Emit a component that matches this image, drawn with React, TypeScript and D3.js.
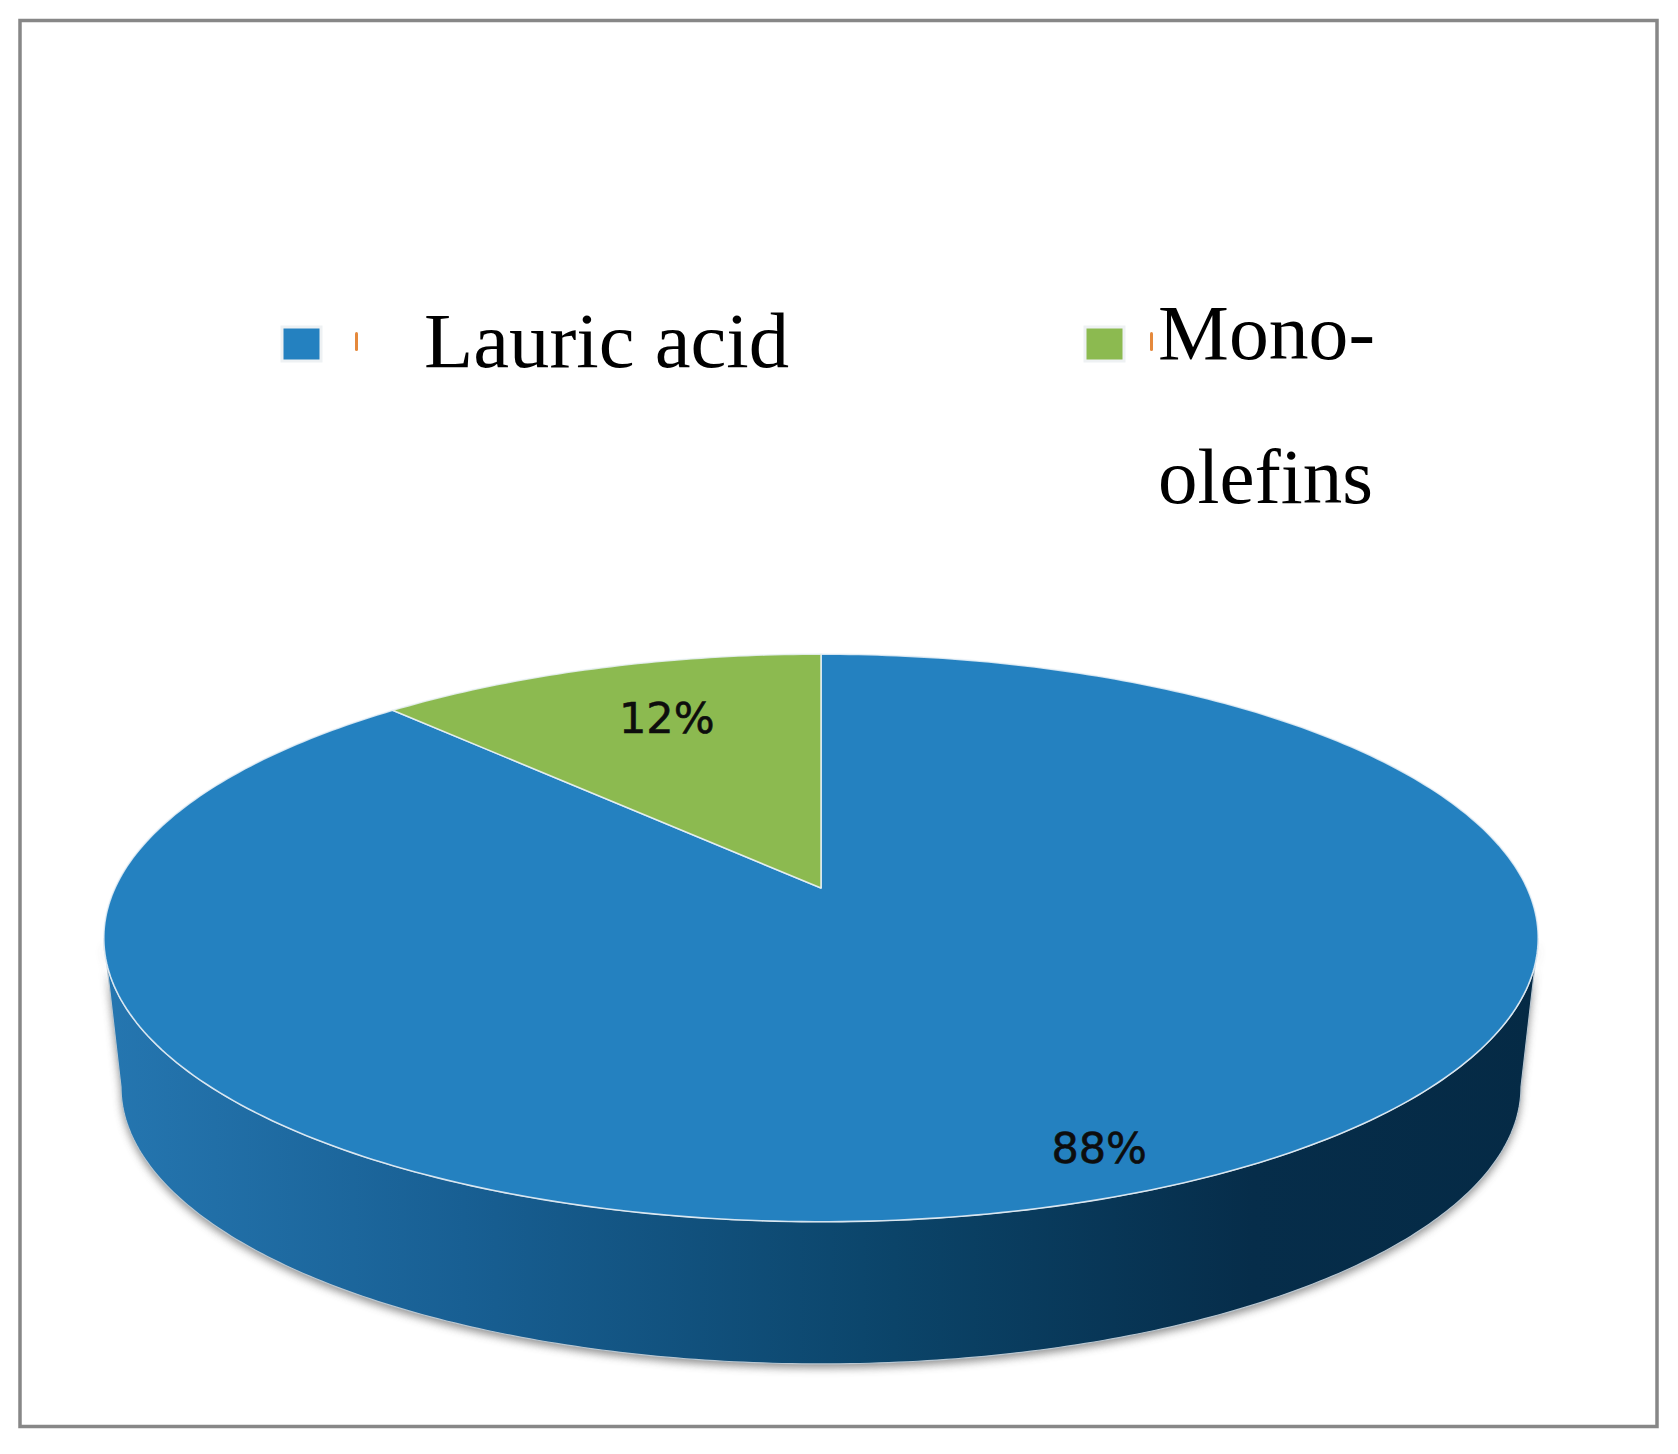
import React, { useEffect, useRef } from "react";
import * as d3 from "d3";

// chart data
const categories = ["Lauric acid", "Mono-olefins"];
const values = [88, 12];
const colors = ["#2481c0", "#8cba50"];
const legendLines = [["Lauric acid"], ["Mono-", "olefins"]];

const W = 1678;
const H = 1454;

// perspective pie geometry
const cx = 821;
const apexY = 888;
const ellCy = 938;
const A = 706;
const B = 275;
const K = 0.176;
const depth = 149;
const shrink = 0.024;
const labelRadius = [0.88, 0.7];
const labelNudge = [
  [11, -3],
  [9, -9]
];

// u: horizontal (-1..1), v: depth (-1 far .. 1 near), level 0 = top face, 1 = bottom
function project(u: number, v: number, level: number): [number, number] {
  const w = 1 - K * v;
  const s = 1 - shrink * level;
  const x = cx + (s * A * u) / w;
  const y0 = apexY + (B * v) / w;
  const y = ellCy + depth * level + s * (y0 - ellCy);
  return [x, y];
}

function atAngle(a: number, r: number, level: number) {
  return project(r * Math.sin(a), -r * Math.cos(a), level);
}

export default function App() {
  const ref = useRef<SVGSVGElement>(null);

  useEffect(() => {
    const svg = d3.select(ref.current);
    svg.selectAll("*").remove();

    const defs = svg.append("defs");
    const grad = defs
      .append("linearGradient")
      .attr("id", "sideGrad")
      .attr("gradientUnits", "userSpaceOnUse")
      .attr("x1", 105)
      .attr("x2", 1540)
      .attr("y1", 0)
      .attr("y2", 0);
    [
      ["0%", "#2576b0"],
      ["25%", "#185f93"],
      ["55%", "#0b4469"],
      ["80%", "#062d4a"],
      ["100%", "#052a45"]
    ].forEach(([o, c]) => grad.append("stop").attr("offset", o).attr("stop-color", c));

    defs
      .append("filter")
      .attr("id", "shadow")
      .attr("x", "-10%")
      .attr("y", "-10%")
      .attr("width", "120%")
      .attr("height", "130%")
      .append("feGaussianBlur")
      .attr("stdDeviation", 4);

    // frame
    svg
      .append("rect")
      .attr("x", 20)
      .attr("y", 20.5)
      .attr("width", 1637)
      .attr("height", 1406)
      .attr("fill", "white")
      .attr("stroke", "#878787")
      .attr("stroke-width", 3.5);

    const line = d3.line<[number, number]>();
    const t0 = Math.asin(K);
    const front = d3.range(0, 241).map((i) => t0 + ((Math.PI - 2 * t0) * i) / 240);

    const topFront = front.map((t) => project(Math.cos(t), Math.sin(t), 0));
    const botFront = front.map((t) => project(Math.cos(t), Math.sin(t), 1)).reverse();
    const sidePts = topFront.concat(botFront);

    // shadow under the pie
    svg
      .append("path")
      .attr("d", line(sidePts) + "Z")
      .attr("fill", "#7d7d7d")
      .attr("opacity", 0.85)
      .attr("transform", "translate(0,4)")
      .attr("filter", "url(#shadow)");

    // side wall
    svg
      .append("path")
      .attr("d", line(sidePts) + "Z")
      .attr("fill", "url(#sideGrad)")
      .attr("stroke", "#b9c6d0")
      .attr("stroke-width", 1.2);

    // top face slices
    const pie = d3
      .pie<number>()
      .sort(null)
      .value((d) => d);
    const arcs = pie(values);
    const apex = project(0, 0, 0);

    const g = svg.append("g");
    g.selectAll("path.slice")
      .data(arcs)
      .enter()
      .append("path")
      .attr("class", "slice")
      .attr("d", (d) => {
        const n = Math.max(8, Math.ceil(((d.endAngle - d.startAngle) / (2 * Math.PI)) * 400));
        const pts: [number, number][] = [apex];
        for (let i = 0; i <= n; i++) {
          const a = d.startAngle + ((d.endAngle - d.startAngle) * i) / n;
          pts.push(atAngle(a, 1, 0));
        }
        return line(pts) + "Z";
      })
      .attr("fill", (d, i) => colors[i])
      .attr("stroke", "rgba(235,242,248,0.85)")
      .attr("stroke-width", 1.6)
      .attr("stroke-linejoin", "round");

    // data labels
    const labelPos = (d: d3.PieArcDatum<number>, i: number) => {
      const p = atAngle((d.startAngle + d.endAngle) / 2, labelRadius[i], 0);
      return [p[0] + labelNudge[i][0], p[1] + labelNudge[i][1]];
    };
    g.selectAll("text.label")
      .data(arcs)
      .enter()
      .append("text")
      .attr("class", "label")
      .attr("x", (d, i) => labelPos(d, i)[0])
      .attr("y", (d, i) => labelPos(d, i)[1])
      .attr("text-anchor", "middle")
      .attr("dominant-baseline", "central")
      .style("font-family", "'DejaVu Sans', Verdana, sans-serif")
      .style("font-size", "43px")
      .style("fill", "#0d0d0d")
      .style("stroke", "#0d0d0d")
      .style("stroke-width", 0.6)
      .text((d) => Math.round((d.data / d3.sum(values)) * 100) + "%");

    // legend
    const legendX = [282, 1085];
    const tickX = [355, 1150];
    const textX = [424, 1158];
    const baseY = [367, 359];
    const textW = [[365], [217, 215]];
    const legend = svg
      .selectAll("g.legend")
      .data(categories)
      .enter()
      .append("g")
      .attr("class", "legend");

    legend
      .append("rect")
      .attr("x", (d, i) => legendX[i])
      .attr("y", 327)
      .attr("width", 39)
      .attr("height", 34)
      .attr("fill", (d, i) => colors[i])
      .attr("stroke", "#eef1f3")
      .attr("stroke-width", 3);

    legend
      .append("rect")
      .attr("x", (d, i) => tickX[i])
      .attr("y", 332)
      .attr("width", 3)
      .attr("height", 19)
      .attr("rx", 1.5)
      .attr("fill", "#e0741a")
      .attr("opacity", 0.85);

    legend.each(function (d, i) {
      const sel = d3.select(this);
      legendLines[i].forEach((txt, j) => {
        sel
          .append("text")
          .attr("x", textX[i])
          .attr("y", baseY[i] + j * 144)
          .attr("textLength", textW[i][j])
          .attr("lengthAdjust", "spacingAndGlyphs")
          .style("font-family", "'Liberation Serif', 'Times New Roman', serif")
          .style("font-size", "78px")
          .style("fill", "#000")
          .text(txt);
      });
    });
  }, []);

  return (
    <svg
      ref={ref}
      width={W}
      height={H}
      style={{ position: "absolute", left: 0, top: 0, background: "white" }}
    />
  );
}
